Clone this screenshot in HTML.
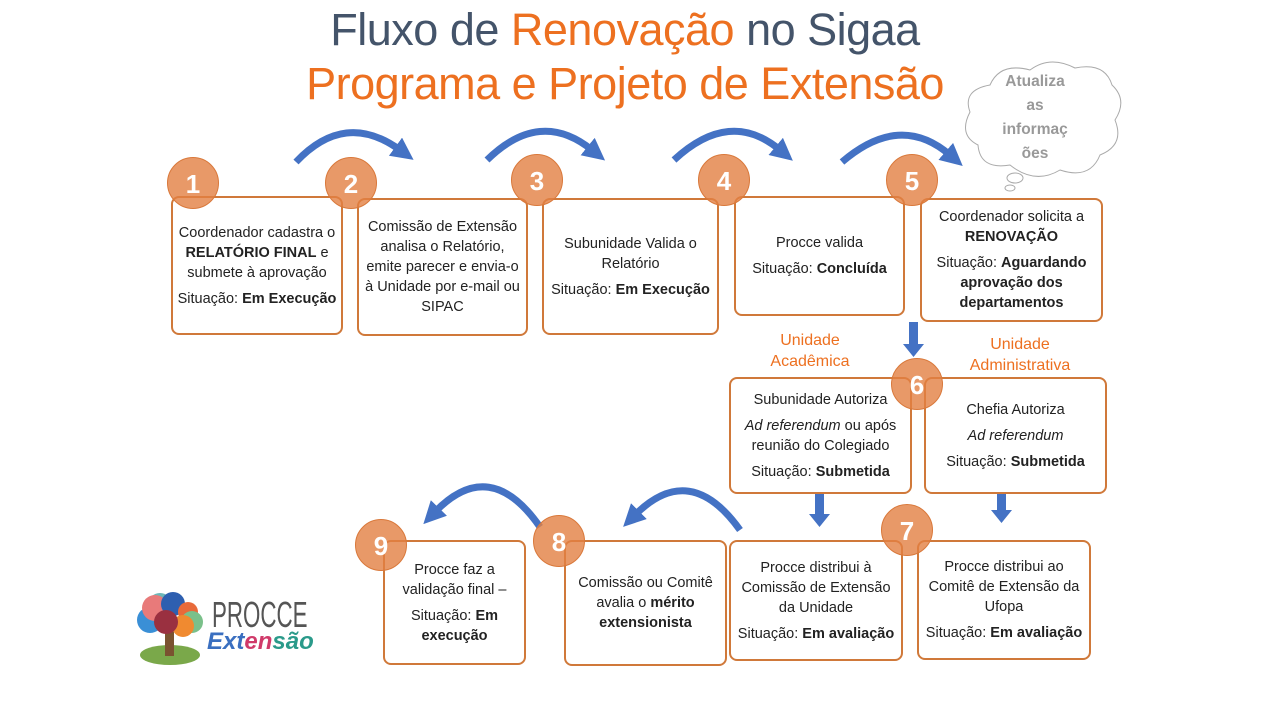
<!DOCTYPE html>
<html><head><meta charset="utf-8"><style>
body{margin:0;width:1280px;height:720px;background:#fff;position:relative;overflow:hidden;font-family:"Liberation Sans",sans-serif}
.t{position:absolute;left:0;width:1280px;text-align:center;font-size:45px;letter-spacing:-0.5px}
.b{position:absolute;box-sizing:border-box;border:2px solid #d0793a;border-radius:8px;background:#fff;display:flex;flex-direction:column;justify-content:center;align-items:center;text-align:center;font-size:14.5px;line-height:20px;color:#222;padding:0 4px}
.b p{margin:3px 0}
.c{position:absolute;width:52px;height:52px;border-radius:50%;background:rgba(226,128,66,0.8);border:1px solid #d9783a;color:#fff;font-weight:bold;font-size:26px;line-height:52px;text-align:center;box-sizing:border-box}
.u{position:absolute;color:#ed7020;font-size:16px;text-align:center;line-height:21px}
svg{position:absolute;left:0;top:0}
</style></head><body>
<div class="t" style="top:4px;color:#44546a;left:-15px">Fluxo de <span style="color:#ed7020">Renovação</span> no Sigaa</div>
<div class="t" style="top:58px;color:#ed7020;left:-15px">Programa e Projeto de Extensão</div>

<svg width="1280" height="720">
<defs><marker id="h" markerWidth="3.2" markerHeight="3.2" refX="0.8" refY="1.6" orient="auto"><path d="M0,0 L3.2,1.6 L0,3.2z" fill="#4472c4"/></marker></defs>
<g fill="none" stroke="#4472c4" stroke-width="7" marker-end="url(#h)">
<path d="M296,162 Q345,110 400,150"/>
<path d="M487,160 Q540,108 592,150"/>
<path d="M674,160 Q730,108 780,150"/>
<path d="M842,162 Q900,112 950,155"/>
<path d="M540,527 Q490,455 435,512"/>
<path d="M740,530 Q690,460 635,515"/>
</g>
<g fill="#4472c4">
<path d="M909,322h9v22h6l-10.5,13l-10.5,-13h6z"/>
<path d="M815,492h9v22h6l-10.5,13l-10.5,-13h6z"/>
<path d="M997,488h9v22h6l-10.5,13l-10.5,-13h6z"/>
</g>
<g fill="#fff" stroke="#aaa" stroke-width="1">
<path d="M990,85 Q1000,62 1030,70 Q1050,55 1075,68 Q1105,62 1112,85 Q1128,100 1115,120 Q1125,145 1100,155 Q1090,180 1060,170 Q1035,185 1010,165 Q980,170 978,145 Q958,135 970,112 Q962,90 990,85z"/>
<ellipse cx="1015" cy="178" rx="8" ry="5"/><ellipse cx="1010" cy="188" rx="5" ry="3"/>
</g>
</svg>
<div style="position:absolute;left:990px;top:70px;width:90px;text-align:center;color:#999;font-weight:bold;font-size:15.5px;line-height:24px">Atualiza<br>as<br>informaç<br>ões</div>

<div class="b" style="left:171px;top:196px;width:172px;height:139px;padding:0 2px"><p>Coordenador cadastra o <b>RELATÓRIO FINAL</b> e submete à aprovação</p><p>Situação: <b>Em Execução</b></p></div>
<div class="b" style="left:357px;top:198px;width:171px;height:138px"><p>Comissão de Extensão analisa o Relatório, emite parecer e envia-o à Unidade por e-mail ou SIPAC</p></div>
<div class="b" style="left:542px;top:198px;width:177px;height:137px"><p>Subunidade Valida o Relatório</p><p>Situação: <b>Em Execução</b></p></div>
<div class="b" style="left:734px;top:196px;width:171px;height:120px"><p>Procce valida</p><p>Situação: <b>Concluída</b></p></div>
<div class="b" style="left:920px;top:198px;width:183px;height:124px"><p>Coordenador solicita a <b>RENOVAÇÃO</b></p><p>Situação: <b>Aguardando aprovação dos departamentos</b></p></div>
<div class="u" style="left:760px;top:330px;width:100px">Unidade<br>Acadêmica</div>
<div class="u" style="left:955px;top:334px;width:130px">Unidade<br>Administrativa</div>
<div class="b" style="left:729px;top:377px;width:183px;height:117px"><p>Subunidade Autoriza</p><p><i>Ad referendum</i> ou após reunião do Colegiado</p><p>Situação: <b>Submetida</b></p></div>
<div class="b" style="left:924px;top:377px;width:183px;height:117px"><p>Chefia Autoriza</p><p><i>Ad referendum</i></p><p>Situação: <b>Submetida</b></p></div>
<div class="b" style="left:729px;top:540px;width:174px;height:121px"><p>Procce distribui à Comissão de Extensão da Unidade</p><p>Situação: <b>Em avaliação</b></p></div>
<div class="b" style="left:917px;top:540px;width:174px;height:120px"><p>Procce distribui ao Comitê de Extensão da Ufopa</p><p>Situação: <b>Em avaliação</b></p></div>
<div class="b" style="left:564px;top:540px;width:163px;height:126px"><p>Comissão ou Comitê avalia o <b>mérito extensionista</b></p></div>
<div class="b" style="left:383px;top:540px;width:143px;height:125px"><p>Procce faz a validação final –</p><p>Situação: <b>Em execução</b></p></div>

<div class="c" style="left:167px;top:157px">1</div>
<div class="c" style="left:325px;top:157px">2</div>
<div class="c" style="left:511px;top:154px">3</div>
<div class="c" style="left:698px;top:154px">4</div>
<div class="c" style="left:886px;top:154px">5</div>
<div class="c" style="left:891px;top:358px">6</div>
<div class="c" style="left:881px;top:504px">7</div>
<div class="c" style="left:533px;top:515px">8</div>
<div class="c" style="left:355px;top:519px">9</div>

<svg width="1280" height="720">
<ellipse cx="170" cy="655" rx="30" ry="10" fill="#7aa84a"/>
<rect x="165" y="620" width="9" height="36" fill="#7a5230"/>
<circle cx="160" cy="605" r="12" fill="#6cb7b8"/>
<circle cx="150" cy="620" r="13" fill="#3a8fd6"/>
<circle cx="155" cy="608" r="13" fill="#e87a7a"/>
<circle cx="173" cy="604" r="12" fill="#2e5fb0"/>
<circle cx="188" cy="612" r="10" fill="#e86a3a"/>
<circle cx="192" cy="622" r="11" fill="#7ac08a"/>
<circle cx="183" cy="626" r="11" fill="#f08a30"/>
<circle cx="166" cy="622" r="12" fill="#9a3040"/>
</svg>
<div style="position:absolute;left:212px;top:594px;font-size:36px;color:#555;font-family:'Liberation Sans Narrow','Liberation Sans',sans-serif;transform:scaleX(0.62);transform-origin:left">PROCCE</div>
<div style="position:absolute;left:207px;top:628px;font-size:24px;font-style:italic;font-weight:bold;color:#3a6fc0">Ext<span style="color:#d03a6a">en</span><span style="color:#2a9a8a">são</span></div>
</body></html>
